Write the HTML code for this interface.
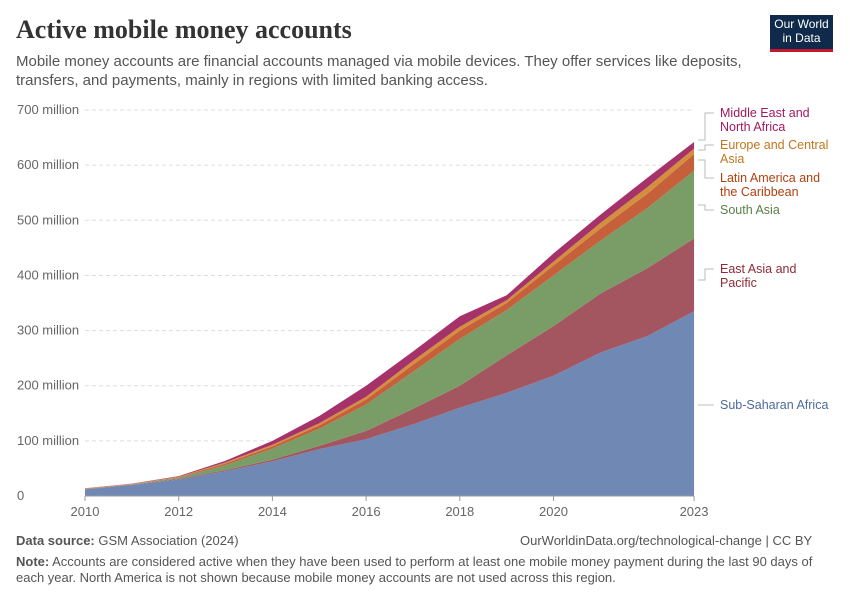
<!DOCTYPE html>
<html><head><meta charset="utf-8">
<style>
body{margin:0;background:#fff;font-family:"Liberation Sans",sans-serif;}
.t{position:absolute;}
</style></head>
<body>
<div style="position:relative;width:850px;height:600px;overflow:hidden;">
<div class="t" style="left:16px;top:15px;font-family:'Liberation Serif',serif;font-size:26px;font-weight:bold;color:#333;">Active mobile money accounts</div>
<div class="t" style="left:16px;top:52px;width:740px;font-size:15px;line-height:19px;color:#555;">Mobile money accounts are financial accounts managed via mobile devices. They offer services like deposits, transfers, and payments, mainly in regions with limited banking access.</div>
<div class="t" style="left:770px;top:15px;width:63px;height:37px;background:#0f2a4a;border-bottom:3px solid #c4162e;color:#fff;font-size:12px;line-height:14px;text-align:center;padding-top:2px;box-sizing:border-box;">Our World<br>in Data</div>
<svg id="s" width="850" height="600" style="position:absolute;left:0;top:0;font-family:'Liberation Sans',sans-serif;"></svg>
<div class="t" style="left:16px;top:533px;font-size:13px;color:#555;"><b>Data source:</b> GSM Association (2024)</div>
<div class="t" style="left:520px;top:533px;font-size:13px;color:#555;">OurWorldinData.org/technological-change | CC BY</div>
<div class="t" style="left:16px;top:554px;width:820px;font-size:13px;line-height:16px;color:#555;"><b>Note:</b> Accounts are considered active when they have been used to perform at least one mobile money payment during the last 90 days of each year. North America is not shown because mobile money accounts are not used across this region.</div>
</div>
<script>
var s=document.getElementById('s'),h='';
function X(i){return 85+i*46.85}function Y(v){return 496-v*0.5514}
for(var g=0;g<=7;g++){var y=Y(g*100);
 if(g>0)h+='<line x1="85" x2="694" y1="'+y+'" y2="'+y+'" stroke="#ddd" stroke-dasharray="4,3"/>';
 h+='<text x="17" y="'+(y+4)+'" font-size="13" fill="#666">'+(g==0?'0':g*100+' million')+'</text>';}
var L=[[12,20,30,45,63,85,103,130,160,187,218,260,290,335],
[12.5,20.5,31,47,66,91,118,158,200,255,308,367,413,467],
[13,21,33,56,86,122,166,225,285,337,400,463,522,590],
[13.5,21.5,34,59,90,128,175,238,300,350,418,485,548,620],
[13.8,22,35,61,93,132,180,245,307,355,425,495,560,630],
[14,22.5,36,64,100,145,200,262,326,364,440,510,577,642]];
var C=['#7088b4','#a3565f','#7a9d68','#c5603a','#d38f3d','#a5336a'];
var prev=null;
for(var k=0;k<6;k++){var p='';
 for(var i=0;i<14;i++)p+=(i?'L':'M')+X(i)+','+Y(L[k][i]);
 for(var i=13;i>=0;i--)p+='L'+X(i)+','+(prev?Y(prev[i]):496);
 h+='<path d="'+p+'Z" fill="'+C[k]+'"/>';prev=L[k];}
h+='<line x1="85" x2="694" y1="496" y2="496" stroke="#999"/>';
var yr=[[0,'2010'],[2,'2012'],[4,'2014'],[6,'2016'],[8,'2018'],[10,'2020'],[13,'2023']];
yr.forEach(function(a){var x=X(a[0]);h+='<line x1="'+x+'" x2="'+x+'" y1="496" y2="501" stroke="#999"/><text x="'+x+'" y="516" font-size="13" fill="#666" text-anchor="middle">'+a[1]+'</text>';});
var lab=[['Middle East and','North Africa',117,'#a2195e',140],['Europe and Central','Asia',149,'#c0771f',150],['Latin America and','the Caribbean',182,'#b3400f',160],['South Asia','',214,'#578145',205],['East Asia and','Pacific',273,'#8c2b38',280],['Sub-Saharan Africa','',409,'#4c6a9c',405]];
lab.forEach(function(a){h+='<text x="720" y="'+a[2]+'" font-size="12.5" fill="'+a[3]+'">'+a[0]+'</text>';
 if(a[1])h+='<text x="720" y="'+(a[2]+14)+'" font-size="12.5" fill="'+a[3]+'">'+a[1]+'</text>';
 h+='<path d="M698,'+a[4]+' L705,'+a[4]+' L705,'+(a[2]-4)+' L714,'+(a[2]-4)+'" fill="none" stroke="#bbb"/>';});
s.innerHTML=h;
</script>
</body></html>
